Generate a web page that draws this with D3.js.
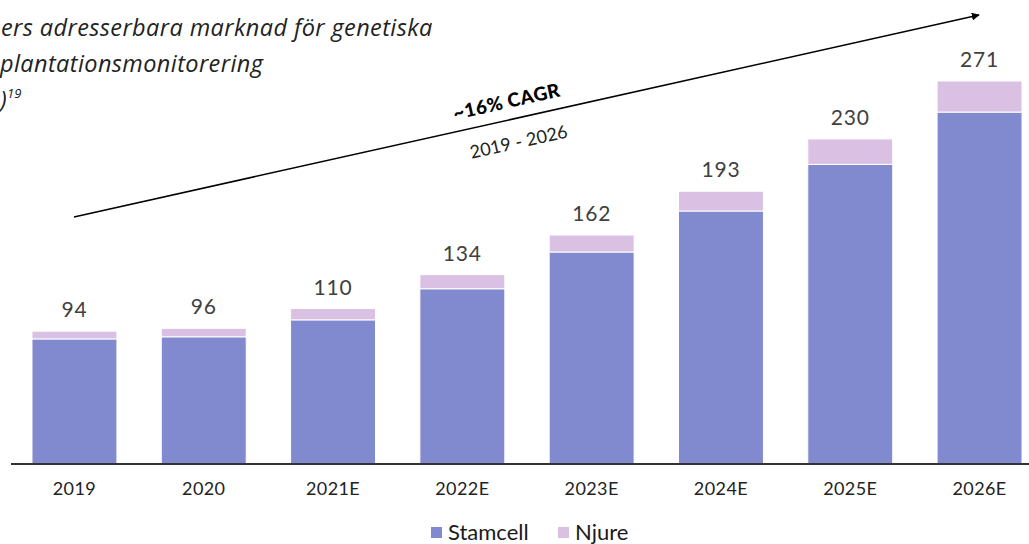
<!DOCTYPE html>
<html>
<head>
  <meta charset="utf-8">
  <title>Adresserbar marknad</title>
  <script src="https://d3js.org/d3.v7.min.js"></script>
  <style>
    body { margin: 0; background: #fff; }
    svg { display: block; font-family: Lato, "Open Sans", sans-serif; }
  </style>
</head>
<body>
  <div id="chart"></div>
  <script>
    // Chart data
    const years = ["2019", "2020", "2021E", "2022E", "2023E", "2024E", "2025E", "2026E"];
    const stamcell = [88.5, 90, 102, 124, 150, 179, 212, 249];
    const njure = [5.5, 6, 8, 10, 12, 14, 18, 22];
    const totals = [94, 96, 110, 134, 162, 193, 230, 271];
    const titleLines = ["ers adresserbara marknad för genetiska", "plantationsmonitorering", ")"];

    const width = 1029, height = 544;
    const colors = { Stamcell: "#8189cf", Njure: "#dac1e3" };

    const svg = d3.select("#chart")
      .append("svg")
      .attr("width", width)
      .attr("height", height);

    const x = d3.scaleBand()
      .domain(years)
      .range([9.8, 1044.2])
      .paddingInner(0.343)
      .paddingOuter(0.1715);

    const y = d3.scaleLinear()
      .domain([0, 300])
      .range([464, 40]);

    // Title (cut at the left edge, as in the source)
    const title = svg.append("text")
      .attr("font-family", "'Open Sans', sans-serif")
      .attr("font-style", "italic")
      .attr("font-weight", 400)
      .attr("font-size", 23.5)
      .attr("letter-spacing", 0.4)
      .attr("fill", "#222");
    titleLines.forEach(function(line, i) {
      title.append("tspan")
        .attr("x", i === 0 ? 1 : 0)
        .attr("y", 36 + i * 36)
        .text(line);
    });
    title.append("tspan")
      .attr("dy", -10)
      .attr("font-size", 13)
      .attr("letter-spacing", 0)
      .text("19");

    // Stacked bars
    const bars = svg.append("g");
    years.forEach(function(yr, i) {
      bars.append("rect")
        .attr("x", x(yr))
        .attr("y", y(stamcell[i]))
        .attr("width", x.bandwidth())
        .attr("height", y(0) - y(stamcell[i]))
        .attr("fill", colors.Stamcell)
        .attr("stroke", "#fff")
        .attr("stroke-width", 1);
      bars.append("rect")
        .attr("x", x(yr))
        .attr("y", y(stamcell[i] + njure[i]))
        .attr("width", x.bandwidth())
        .attr("height", y(stamcell[i]) - y(stamcell[i] + njure[i]))
        .attr("fill", colors.Njure)
        .attr("stroke", "#fff")
        .attr("stroke-width", 1);
    });

    // Total labels
    svg.append("g").selectAll("text")
      .data(years)
      .enter()
      .append("text")
      .attr("x", d => x(d) + x.bandwidth() / 2)
      .attr("y", (d, i) => y(stamcell[i] + njure[i]) - 14)
      .attr("text-anchor", "middle")
      .attr("font-size", 21)
      .attr("letter-spacing", 0.8)
      .attr("fill", "#404040")
      .text((d, i) => totals[i]);

    // x axis
    const xAxis = svg.append("g")
      .attr("transform", "translate(0," + y(0) + ")")
      .call(d3.axisBottom(x).tickSize(0).tickPadding(18));
    xAxis.select(".domain").remove();
    xAxis.append("line")
      .attr("x1", 11).attr("x2", width)
      .attr("stroke", "#333")
      .attr("stroke-width", 2);
    xAxis.selectAll(".tick text")
      .attr("font-family", "Lato, sans-serif")
      .attr("font-size", 18)
      .attr("letter-spacing", 0.4)
      .attr("fill", "#222");

    // CAGR arrow
    const defs = svg.append("defs");
    defs.append("marker")
      .attr("id", "head")
      .attr("viewBox", "0 0 10 10")
      .attr("refX", 9).attr("refY", 5)
      .attr("markerWidth", 8).attr("markerHeight", 8)
      .attr("markerUnits", "userSpaceOnUse")
      .attr("orient", "auto")
      .append("path")
      .attr("d", "M0,0L10,5L0,10Z")
      .attr("fill", "#000");

    const a0 = [74, 217], a1 = [979, 15];
    svg.append("line")
      .attr("x1", a0[0]).attr("y1", a0[1])
      .attr("x2", a1[0]).attr("y2", a1[1])
      .attr("stroke", "#000")
      .attr("stroke-width", 1.5)
      .attr("marker-end", "url(#head)");

    const angle = Math.atan2(a1[1] - a0[1], a1[0] - a0[0]) * 180 / Math.PI;
    svg.append("text")
      .attr("transform", "translate(508,108) rotate(" + angle + ")")
      .attr("text-anchor", "middle")
      .attr("font-size", 19)
      .attr("font-weight", 900)
      .attr("letter-spacing", 0.5)
      .attr("fill", "#000")
      .text("~16% CAGR");
    svg.append("text")
      .attr("transform", "translate(520,148) rotate(" + angle + ")")
      .attr("text-anchor", "middle")
      .attr("font-size", 18)
      .attr("fill", "#222")
      .text("2019 - 2026");

    // Legend
    const legend = svg.append("g");
    const items = [["Stamcell", 431], ["Njure", 558]];
    items.forEach(function(it) {
      legend.append("rect")
        .attr("x", it[1]).attr("y", 527)
        .attr("width", 11).attr("height", 11)
        .attr("fill", colors[it[0]]);
      legend.append("text")
        .attr("x", it[1] + 17).attr("y", 540)
        .attr("font-size", 22)
        .attr("fill", "#1a1a1a")
        .text(it[0]);
    });
  </script>
</body>
</html>
